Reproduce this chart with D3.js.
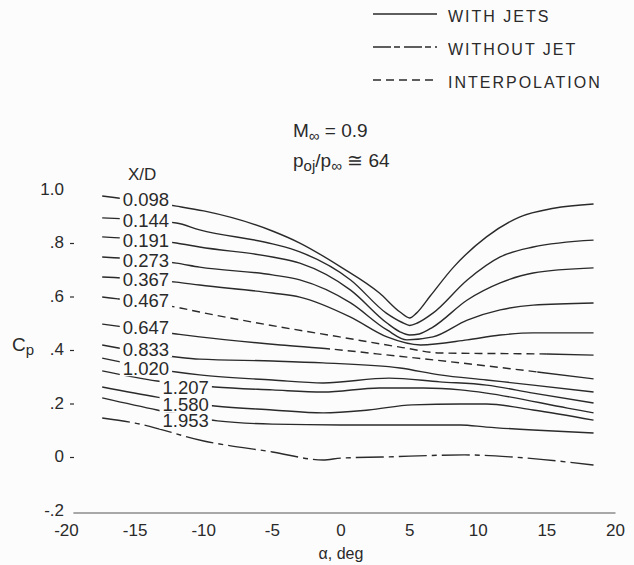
<!DOCTYPE html>
<html>
<head>
<meta charset="utf-8">
<script src="https://cdn.jsdelivr.net/npm/d3@7"></script>
<style>
  body { margin: 0; background: #fcfcfc; }
  svg text { font-family: "Liberation Sans", Arial, sans-serif; fill: #2a2a2a; }
</style>
</head>
<body>
<svg id="chart" width="634" height="565"></svg>
<script>
// Axis ticks
const alphaTicks = [-20, -15, -10, -5, 0, 5, 10, 15, 20];
const cpTicks = [-0.2, 0, 0.2, 0.4, 0.6, 0.8, 1.0];
const cpTickLabels = ["-.2", "0", ".2", ".4", ".6", ".8", "1.0"];

// Station labels, X/D
const xdLabels = ["0.098", "0.144", "0.191", "0.273", "0.367", "0.467",
                  "0.647", "0.833", "1.020", "1.207", "1.580", "1.953"];

// Pressure coefficient vs angle of attack, [alpha (deg), Cp]
const cp0098 = [[-17.4, .974], [-12, .936], [-10, .918], [-5, .843], [-3, .798], [0, .708],
                [2.8, .611], [4.3, .540], [5, .518], [5.5, .536], [6.5, .600], [8.2, .708],
                [10.6, .821], [13, .895], [15.5, .928], [18.4, .944]];
const cp0144 = [[-17.4, .892], [-12, .873], [-10.3, .847], [-5, .795], [-3, .765], [0.7, .660],
                [3.3, .536], [4.5, .500], [5, .490], [5.6, .500], [6.7, .536], [9.2, .660],
                [11.6, .746], [14, .783], [18.4, .809]];
const cp0191 = [[-17.4, .821], [-12, .798], [-10.3, .783], [-5, .746], [-3, .723], [0.7, .622],
                [3.35, .499], [4.3, .466], [5, .454], [5.7, .458], [6.7, .484], [9.2, .585],
                [11.6, .649], [14, .686], [18.4, .705]];
const cp0273 = [[-17.4, .746], [-12, .723], [-10.3, .708], [-5, .679], [-3, .660], [0.7, .574],
                [3.35, .473], [4.8, .436], [6.7, .447], [9.2, .510], [11.6, .548], [14, .566],
                [18.4, .574]];
const cp0367 = [[-17.4, .671], [-12, .652], [-10.3, .641], [-5, .611], [-3, .596], [0.7, .521],
                [3.35, .447], [5.8, .417], [9.2, .436], [11.6, .454], [14, .462], [18.4, .462]];
const cp0467 = [[-17.4, .596], [-11.7, .555], [-10.3, .540], [-4.4, .484], [-0.1, .447],
                [4.3, .409], [7.2, .387], [15, .383], [18.4, .379]];
const cp0647 = [[-17.4, .495], [-12, .458], [-10.3, .447], [-4.4, .417], [-0.8, .402],
                [4, .376], [8.7, .350], [14.3, .316], [18.4, .290]];
const cp0833 = [[-17.4, .417], [-12, .372], [-10.3, .364], [-5, .357], [-1.3, .350], [4.3, .331],
                [7.2, .305], [10.6, .286], [14, .267], [18.4, .241]];
const cp1020 = [[-17.4, .368], [-12, .316], [-10.3, .305], [-5, .286], [-1.3, .275], [3.5, .293],
                [7.2, .279], [10.6, .267], [14, .237], [18.4, .200]];
const cp1207 = [[-17.4, .320], [-13.4, .282], [-9.2, .260], [-5, .249], [-1.3, .241], [2.8, .256],
                [6, .256], [8.7, .249], [10.6, .237], [16.5, .181], [18.4, .163]];
const cp1580 = [[-17.4, .260], [-13.4, .222], [-9.2, .189], [-5, .174], [-1.3, .163], [2, .174],
                [5.2, .193], [8.7, .196], [10.6, .196], [14, .174], [18.4, .136]];
const cp1953 = [[-17.4, .219], [-13.4, .174], [-9, .133], [-5, .121], [0, .118], [5, .118],
                [8.7, .118], [10.6, .110], [14, .099], [18.4, .088]];
const cpNoJet = [[-17.4, .144], [-15, .125], [-10, .058], [-5, .017], [-1.3, -.013], [0, -.006],
                 [3, -.002], [9, .006], [12.5, -.002], [18.4, -.032]];

// Alpha ranges drawn as interpolation
const interp0467 = [[-16.3, 15.0]];
const interp0647 = [[-0.8, 14.3]];

const withJets = [cp0098, cp0144, cp0191, cp0273, cp0367, cp0467,
                  cp0647, cp0833, cp1020, cp1207, cp1580, cp1953];
const interpRanges = [[], [], [], [], [], interp0467, interp0647, [], [], [], [], []];

const legendLabels = ["WITH JETS", "WITHOUT JET", "INTERPOLATION"];

const svg = d3.select("#chart");
const ink = "#2a2a2a";
const bg = "#fcfcfc";
svg.append("rect").attr("width", 634).attr("height", 565).attr("fill", bg);

const x = d3.scaleLinear().domain([-20, 20]).range([66.5, 615.5]);
const y = d3.scaleLinear().domain([-0.2, 1.0]).range([510, 189]);

const line = d3.line()
  .x(d => x(d[0]))
  .y(d => y(d[1]))
  .curve(d3.curveMonotoneX);

const DASH_INTERP = "8,5";
const DASH_NOJET = "28,5,5,5";

// Clip paths: alpha ranges drawn dashed vs solid
const defs = svg.append("defs");
function rangeClip(id, ranges) {
  const cp = defs.append("clipPath").attr("id", id);
  ranges.forEach(r => {
    cp.append("rect").attr("x", x(r[0])).attr("y", 0)
      .attr("width", x(r[1]) - x(r[0])).attr("height", 565);
  });
}
function complement(ranges) {
  const out = [];
  let a = -20;
  ranges.forEach(r => { out.push([a, r[0]]); a = r[1]; });
  out.push([a, 20]);
  return out;
}

// Curves
const curveG = svg.append("g").attr("fill", "none").attr("stroke", ink)
  .attr("stroke-width", 1.4);

withJets.forEach((data, i) => {
  const ranges = interpRanges[i];
  if (ranges.length === 0) {
    curveG.append("path").attr("d", line(data));
  } else {
    rangeClip("solid" + i, complement(ranges));
    rangeClip("dash" + i, ranges);
    curveG.append("path").attr("d", line(data)).attr("clip-path", `url(#solid${i})`);
    curveG.append("path").attr("d", line(data)).attr("clip-path", `url(#dash${i})`)
      .attr("stroke-dasharray", DASH_INTERP);
  }
});
curveG.append("path").attr("d", line(cpNoJet)).attr("stroke-dasharray", DASH_NOJET);

// Station labels over the curves (background boxes open a gap in each line)
const labelBoxes = svg.append("g");
const labelTexts = svg.append("g");
function cpAt(data, a) {
  for (let k = 0; k < data.length - 1; k++) {
    if (a >= data[k][0] && a <= data[k + 1][0]) {
      const t = (a - data[k][0]) / (data[k + 1][0] - data[k][0]);
      return data[k][1] + t * (data[k + 1][1] - data[k][1]);
    }
  }
  return data[data.length - 1][1];
}
let prevLy = -Infinity;
xdLabels.forEach((lab, i) => {
  const data = withJets[i];
  const lower = i >= 9;
  const lx = lower ? x(-13.0) : x(-15.9);
  let ly = lower ? y(cpAt(data, -9.3)) - 1 : y(cpAt(data, -16.4)) + 2;
  const minGap = i <= 9 ? 19 : 16;
  ly = Math.max(ly, prevLy + minGap);
  prevLy = ly;
  const t = labelTexts.append("text").attr("x", lx).attr("y", ly)
    .attr("dominant-baseline", "central")
    .attr("font-size", 18.5).text(lab);
  const bb = t.node().getBBox();
  labelBoxes.append("rect").attr("x", bb.x - 3).attr("y", ly - 8)
    .attr("width", bb.width + 6).attr("height", 16).attr("fill", bg);
});
svg.append("text").attr("x", 128).attr("y", 174).attr("dominant-baseline", "central")
  .attr("font-size", 17).text("X/D");

// Y axis
const yAxisG = svg.append("g");
cpTicks.forEach((v, i) => {
  yAxisG.append("text").attr("x", 64).attr("y", y(v))
    .attr("text-anchor", "end").attr("dominant-baseline", "central")
    .attr("font-size", 17).text(cpTickLabels[i]);
  if (v >= 0 && v < 1.0) {
    yAxisG.append("line").attr("x1", 70).attr("x2", 74)
      .attr("y1", y(v) + 1).attr("y2", y(v) + 1)
      .attr("stroke", ink).attr("stroke-width", 1.2);
  }
});
const cpLabel = svg.append("text").attr("x", 12).attr("y", 351).attr("font-size", 19);
cpLabel.append("tspan").text("C");
cpLabel.append("tspan").attr("dy", 4).attr("font-size", 15).text("p");

// X axis
svg.append("line").attr("x1", x(-19.5)).attr("x2", x(20))
  .attr("y1", y(-0.2) + 3).attr("y2", y(-0.2) + 3)
  .attr("stroke", "#555").attr("stroke-width", 1);
alphaTicks.forEach(t => {
  svg.append("text").attr("x", x(t)).attr("y", 530)
    .attr("text-anchor", "middle").attr("dominant-baseline", "central")
    .attr("font-size", 17).text(t);
});
svg.append("text").attr("x", x(0)).attr("y", 553).attr("text-anchor", "middle")
  .attr("dominant-baseline", "central").attr("font-size", 16).text("\u03B1, deg");

// Flow conditions
const m = svg.append("text").attr("x", 293).attr("y", 137).attr("font-size", 19);
m.append("tspan").text("M");
m.append("tspan").attr("dy", 4).attr("font-size", 15).text("\u221E");
m.append("tspan").attr("dy", -4).text(" = 0.9");
const p = svg.append("text").attr("x", 293).attr("y", 167).attr("font-size", 19);
p.append("tspan").text("p");
p.append("tspan").attr("dy", 4).attr("font-size", 15).text("oj");
p.append("tspan").attr("dy", -4).text("/p");
p.append("tspan").attr("dy", 4).attr("font-size", 15).text("\u221E");
p.append("tspan").attr("dy", -4).text(" \u2245 64");

// Legend
const legDash = [null, "18,3,6,4", "8,5"];
const legG = svg.append("g");
legendLabels.forEach((lab, i) => {
  const ly = 15 + i * 33;
  legG.append("line").attr("x1", 373).attr("x2", 437).attr("y1", ly - 1).attr("y2", ly - 1)
    .attr("stroke", ink).attr("stroke-width", 1.4)
    .attr("stroke-dasharray", legDash[i]);
  legG.append("text").attr("x", 448).attr("y", ly + 1).attr("dominant-baseline", "central")
    .attr("font-size", 16).attr("letter-spacing", 2).text(lab);
});
</script>
</body>
</html>
